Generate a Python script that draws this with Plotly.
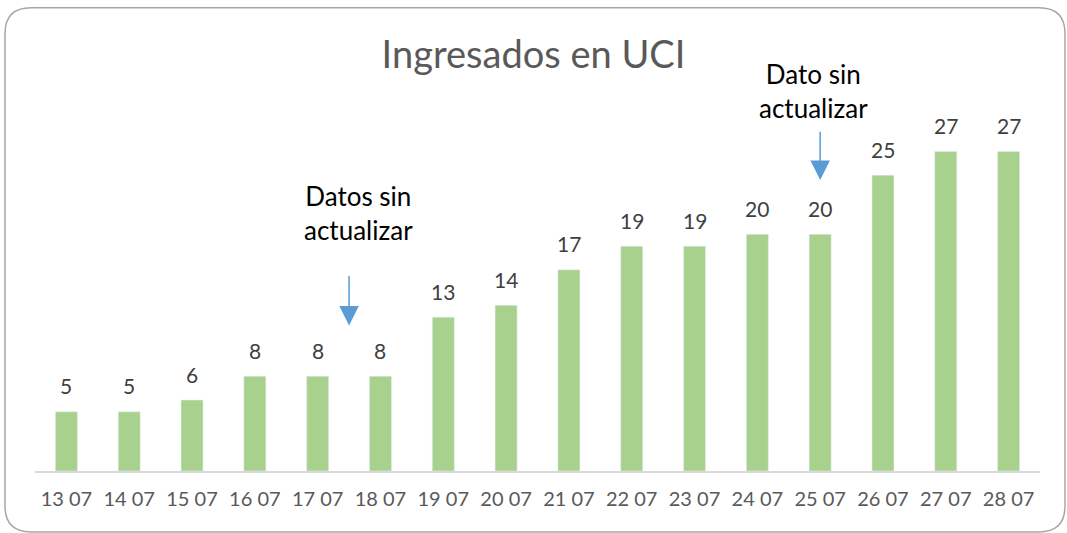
import plotly.graph_objects as go

# datos
fechas = ["13 07", "14 07", "15 07", "16 07", "17 07", "18 07", "19 07", "20 07",
          "21 07", "22 07", "23 07", "24 07", "25 07", "26 07", "27 07", "28 07"]
ingresados = [5, 5, 6, 8, 8, 8, 13, 14, 17, 19, 19, 20, 20, 25, 27, 27]

notas_texto = ["Datos sin<br>actualizar", "Dato sin<br>actualizar"]
notas_x_flecha = [4.5, 12]
notas_x_texto = [4.65, 11.9]
notas_y_punta = [12.3, 24.6]
notas_y_cola = [16.6, 28.8]

FUENTE = "Lato, 'Open Sans', sans-serif"

W, H = 1067, 533
L, R, T, B = 35, 27, 115.5, 62
PW, PH = W - L - R, H - T - B

# altura del texto de las notas (en papel, fuera del rango del eje)
notas_y_texto = [(H - B - 213) / PH, (H - B - 90.5) / PH]

fig = go.Figure()
fig.add_trace(go.Bar(
    x=list(range(len(fechas))), y=ingresados,
    marker_color="#A9D18E", width=0.35,
    hoverinfo="x+y",
))

# etiquetas de datos
for i, v in enumerate(ingresados):
    fig.add_annotation(x=i, y=v, text=str(v), showarrow=False, yshift=26,
                       font=dict(size=21, color="#404040", family=FUENTE))

# notas con flecha
for t, xf, xt, yp, yc, yt in zip(notas_texto, notas_x_flecha, notas_x_texto,
                                 notas_y_punta, notas_y_cola, notas_y_texto):
    fig.add_annotation(x=xf, y=yp, ax=xf, ay=yc, axref="x", ayref="y", xref="x", yref="y",
                       text="", showarrow=True, arrowhead=2, arrowsize=2.6,
                       arrowwidth=1.5, arrowcolor="#5B9BD5")
    fig.add_annotation(x=xt, y=yt, xref="x", yref="paper", text=t, showarrow=False,
                       yanchor="middle",
                       font=dict(size=26, color="#000000", family=FUENTE))

# marco redondeado
x0, x1 = (5 - L) / PW, (1065 - L) / PW
y0, y1 = (H - B - 532) / PH, (H - B - 7) / PH
rx, ry = 26 / PW, 26 / PH
path = (f"M {x0+rx},{y1} L {x1-rx},{y1} Q {x1},{y1} {x1},{y1-ry} "
        f"L {x1},{y0+ry} Q {x1},{y0} {x1-rx},{y0} L {x0+rx},{y0} "
        f"Q {x0},{y0} {x0},{y0+ry} L {x0},{y1-ry} Q {x0},{y1} {x0+rx},{y1} Z")
fig.add_shape(type="path", path=path, xref="paper", yref="paper",
              line=dict(color="#A6A6A6", width=1.5))

fig.update_layout(
    width=W, height=H,
    margin=dict(l=L, r=R, t=T, b=B),
    plot_bgcolor="white", paper_bgcolor="white",
    showlegend=False,
    title=dict(text="Ingresados en UCI", x=0.5, xanchor="center",
               y=1 - 55 / H, yanchor="middle",
               font=dict(size=38, color="#595959", family=FUENTE)),
    xaxis=dict(tickmode="array", tickvals=list(range(len(fechas))), ticktext=fechas,
               range=[-0.5, len(fechas) - 0.5], showgrid=False, zeroline=False,
               showline=True, linecolor="#D9D9D9", linewidth=1.5,
               ticks="outside", ticklen=9, tickcolor="rgba(0,0,0,0)",
               tickfont=dict(size=20, color="#595959", family=FUENTE)),
    yaxis=dict(range=[0, 30], visible=False),
)

# sin margen en la pagina para que la figura ocupe toda la ventana
fig.write_html("out.html", config={"displayModeBar": False},
               post_script="document.body.style.margin='0';document.body.style.overflow='hidden';")
